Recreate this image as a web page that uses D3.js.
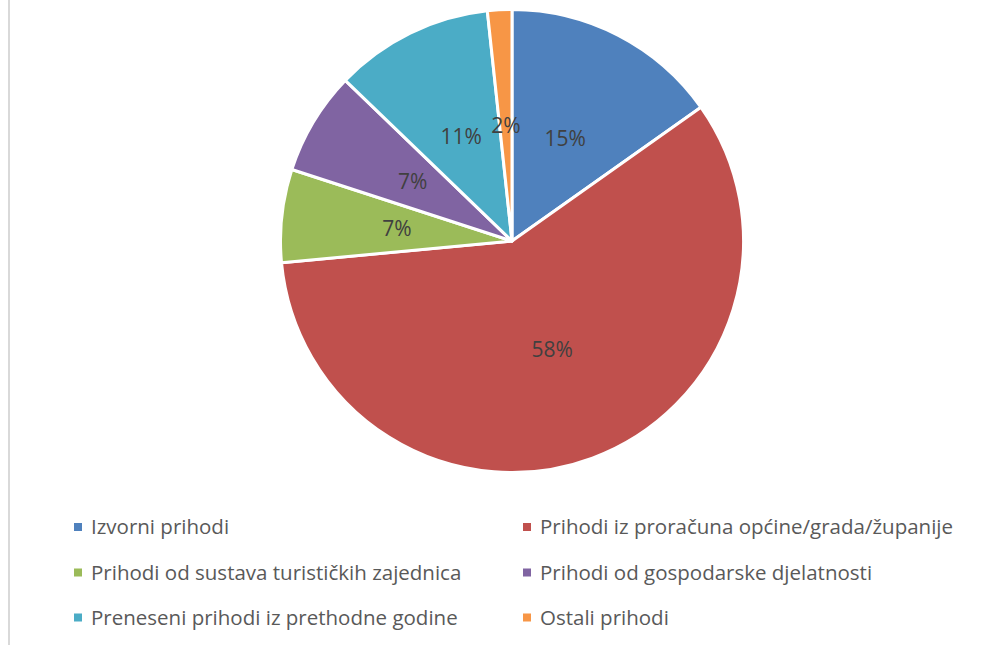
<!DOCTYPE html>
<html>
<head>
<meta charset="utf-8">
<script src="https://cdn.jsdelivr.net/npm/d3@7"></script>
<style>
    body { margin: 0; background: #fff; }
    svg { display: block; }
    .c-label { font-family: "Open Sans", sans-serif; fill: #404040; }
    .c-legend text { font-family: "Open Sans", sans-serif; fill: #595959; }
</style>
</head>
<body>
<div class="c-chart"></div>
<script>
    var categories = [
        "Izvorni prihodi",
        "Prihodi iz proračuna općine/grada/županije",
        "Prihodi od sustava turističkih zajednica",
        "Prihodi od gospodarske djelatnosti",
        "Preneseni prihodi iz prethodne godine",
        "Ostali prihodi"
    ];
    var values = [15.2, 58.3, 6.5, 7.2, 11.1, 1.7];

    var colors = ["#4f81bd", "#c0504d", "#9bbb59", "#8064a2", "#4bacc6", "#f79646"];

    var width = 1004, height = 645;
    var cx = 512, cy = 241, radius = 231.5;

    var dataset = categories.map(function (c, i) {
        return { name: c, value: values[i], color: colors[i] };
    });
    var total = d3.sum(values);

    var svg = d3.select(".c-chart")
        .append("svg")
        .attr("width", width)
        .attr("height", height);

    // chart area border on the left
    svg.append("line")
        .attr("x1", 9).attr("x2", 9)
        .attr("y1", 0).attr("y2", height)
        .attr("stroke", "#d9d9d9")
        .attr("stroke-width", 2);

    var pie = d3.pie()
        .sort(null)
        .value(function (d) { return d.value; });

    var arc = d3.arc()
        .innerRadius(0)
        .outerRadius(radius);

    var g = svg.append("g")
        .attr("transform", "translate(" + cx + "," + cy + ")");

    var arcs = pie(dataset);

    g.selectAll(".c-slice")
        .data(arcs)
        .enter()
        .append("path")
        .attr("class", "c-slice")
        .attr("d", arc)
        .attr("fill", function (d) { return d.data.color; })
        .attr("stroke", "#fff")
        .attr("stroke-width", 3)
        .attr("stroke-linejoin", "round");

    g.selectAll(".c-label")
        .data(arcs)
        .enter()
        .append("text")
        .attr("class", "c-label")
        .attr("transform", function (d) { return "translate(" + arc.centroid(d) + ")"; })
        .attr("text-anchor", "middle")
        .attr("dy", "0.35em")
        .style("font-size", "21px")
        .text(function (d) { return Math.round(d.data.value / total * 100) + "%"; });

    // legend, two columns
    var colX = [74, 523];
    var rowY = [527, 572.5, 617.5];

    var legend = svg.append("g").attr("class", "c-legend");

    var item = legend.selectAll("g")
        .data(dataset)
        .enter()
        .append("g")
        .attr("transform", function (d, i) {
            return "translate(" + colX[i % 2] + "," + rowY[Math.floor(i / 2)] + ")";
        });

    item.append("rect")
        .attr("x", 0).attr("y", -4)
        .attr("width", 8).attr("height", 8)
        .attr("fill", function (d) { return d.color; });

    item.append("text")
        .attr("x", 17)
        .attr("dy", "0.35em")
        .style("font-size", "20.5px")
        .text(function (d) { return d.name; });
</script>
</body>
</html>
